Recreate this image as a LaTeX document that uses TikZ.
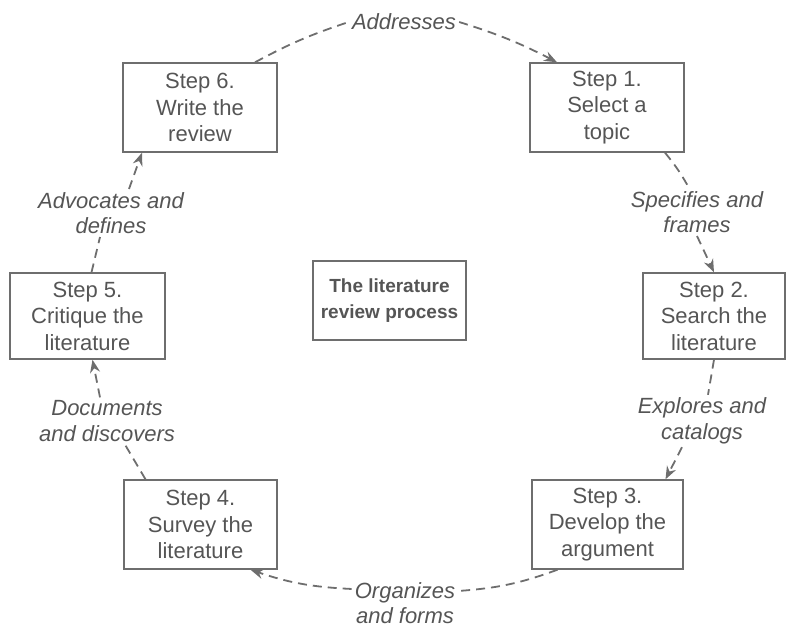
\documentclass[tikz,border=0pt]{standalone}
\usepackage{fontspec}
\setmainfont{Liberation Sans}
\usetikzlibrary{arrows.meta}
\definecolor{linegray}{HTML}{6E6E6E}
\definecolor{txtgray}{HTML}{555555}
\begin{document}
\begin{tikzpicture}[x=1pt,y=-1pt,
  stepbox/.style={draw=linegray, line width=1.4pt, text=txtgray, align=center,
    font=\fontsize{22}{26.5}\selectfont, inner sep=0pt},
  lab/.style={text=txtgray, align=center, font=\fontsize{22}{25.5}\selectfont\itshape, inner sep=3pt},
  seg/.style={draw=linegray, line width=1.8pt, dash pattern=on 9pt off 6pt},
  conn/.style={seg, -{Stealth[length=13pt,width=10pt]}}]
\useasboundingbox (0,0) rectangle (786,629);

\node[stepbox, minimum width=154pt, minimum height=89pt] (s6) at (200,107.5) {Step 6.\\Write the\\review};
\node[stepbox, minimum width=154pt, minimum height=89pt] (s1) at (607,107.5) {Step 1.\\Select a\\topic};
\node[stepbox, minimum width=142pt, minimum height=86pt] (s2) at (714,316) {Step 2.\\Search the\\literature};
\node[stepbox, minimum width=155pt, minimum height=86pt] (s5) at (87.5,316) {Step 5.\\Critique the\\literature};
\node[stepbox, minimum width=153pt, minimum height=89pt] (s4) at (200.5,524.5) {Step 4.\\Survey the\\literature};
\node[stepbox, minimum width=151pt, minimum height=89pt] (s3) at (607.5,524.5) {Step 3.\\Develop the\\argument};
\node[stepbox, font=\fontsize{19}{26}\selectfont\bfseries, minimum width=153pt, minimum height=79pt] (c) at (389.5,300.5) {The literature\\review process};

\node[lab] (addr) at (404,22) {Addresses};
\node[lab] (spec) at (697,212) {Specifies and\\frames};
\node[lab] (expl) at (702,421) {Explores and\\catalogs};
\node[lab] (org) at (405,603) {Organizes\\and forms};
\node[lab] (doc) at (107,421) {Documents\\and discovers};
\node[lab] (adv) at (111,213) {Advocates and\\defines};

\draw[seg] ([xshift=55pt]s6.north) to[bend left=5] (addr.west);
\draw[conn] (addr.east) to[bend left=5] ([xshift=-50pt]s1.north);

\draw[seg] ([xshift=58pt]s1.south) to[bend left=5] ([xshift=-8pt]spec.north);
\draw[conn] (spec.south) -- (s2.north);

\draw[seg] (s2.south) -- ([xshift=6pt]expl.north);
\draw[conn] ([xshift=-20pt]expl.south) -- ([xshift=58pt]s3.north);

\draw[seg] ([xshift=-50pt]s3.south) to[bend left=8] ([yshift=-12pt]org.north east);
\draw[conn] ([yshift=-10pt]org.north west) to[bend left=8] ([xshift=50pt]s4.south);

\draw[seg] ([xshift=-55pt]s4.north) -- ([xshift=18pt]doc.south);
\draw[conn] ([xshift=-7pt]doc.north) -- ([xshift=5pt]s5.south);

\draw[seg] ([xshift=4pt]s5.north) -- ([xshift=-11pt]adv.south);
\draw[conn] ([xshift=18pt]adv.north) -- ([xshift=-58pt]s6.south);
\end{tikzpicture}
\end{document}
